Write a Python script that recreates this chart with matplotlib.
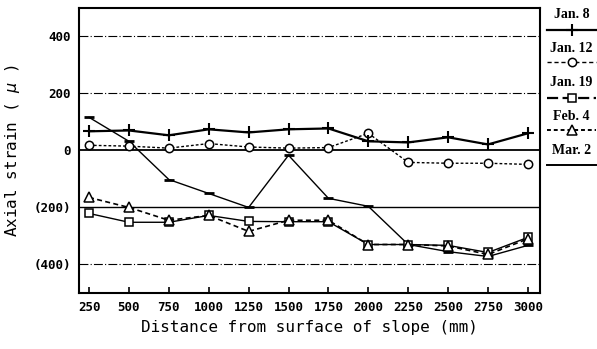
import numpy as np
import matplotlib
matplotlib.use('Agg')
import matplotlib.pyplot as plt
from matplotlib.lines import Line2D

# Datos
distancia = [250, 500, 750, 1000, 1250, 1500, 1750, 2000, 2250, 2500, 2750, 3000]
jan8 = [67, 70, 53, 74, 63, 74, 77, 32, 28, 46, 21, 60]
jan12 = [18, 15, 8, 24, 12, 8, 10, 60, -42, -45, -45, -49]
jan19 = [-221, -252, -252, -228, -249, -250, -250, -330, -330, -333, -358, -305]
feb4 = [-165, -200, -245, -228, -284, -245, -245, -330, -330, -335, -365, -310]
mar2 = [116, 32, -102, -151, -200, -17, -168, -196, -330, -355, -372, -333]
yticks = [400, 200, 0, -200, -400]
ytick_labels = ['400', '200', '0', '(200)', '(400)']
fechas = ['Jan. 8', 'Jan. 12', 'Jan. 19', 'Feb. 4', 'Mar. 2']

mono = 'DejaVu Sans Mono'

fig = plt.figure(figsize=(5.97, 3.49), dpi=100)
ax = fig.add_axes([0.1323, 0.1605, 0.772, 0.817])

# lineas de referencia
for y in [400, 200, -400]:
    ax.axhline(y, color='black', lw=0.8, ls=(0, (8, 2, 1, 2)))
ax.axhline(0, color='black', lw=1.3)
ax.axhline(-200, color='black', lw=1.0)

ax.plot(distancia, mar2, color='black', lw=1.0, marker='_', ms=7, mew=2)
ax.plot(distancia, jan19, color='black', lw=1.0, marker='s', ms=5.5, mfc='white', mew=1.1)
ax.plot(distancia, feb4, color='black', lw=1.2, ls=(0, (3, 2)), marker='^', ms=6.5, mfc='white', mew=1.1)
ax.plot(distancia, jan12, color='black', lw=1.0, ls=(0, (2, 1.5)), marker='o', ms=6, mfc='white', mew=1.1)
ax.plot(distancia, jan8, color='black', lw=1.6, marker='+', ms=9, mew=1.5)

ax.set_xlim(187, 3075)
ax.set_ylim(-500, 500)
ax.set_xticks(distancia)
ax.set_xticklabels([str(d) for d in distancia], fontsize=9, fontweight='bold', family=mono)
ax.set_yticks(yticks)
ax.set_yticklabels(ytick_labels, fontsize=9, fontweight='bold', family=mono)
ax.tick_params(axis='y', length=0, pad=6)
ax.tick_params(axis='x', direction='in', length=4, width=1.2, pad=6)
for s in ax.spines.values():
    s.set_linewidth(1.5)

ax.set_xlabel('Distance from surface of slope (mm)', fontsize=11.5, family=mono, labelpad=4)
ax.set_ylabel(r'Axial strain ( $\mu$ )', fontsize=11.5, family=mono, labelpad=8)

# leyenda manual a la derecha
estilos = [
    dict(ls='-', lw=1.6, marker='+', ms=8, mew=1.5),
    dict(ls=(0, (3, 2)), lw=1.0, marker='o', ms=6, mfc='white', mew=1.1),
    dict(ls=(0, (5, 2)), lw=1.6, marker='s', ms=6, mfc='white', mew=1.1),
    dict(ls=(0, (2, 1.5)), lw=1.4, marker='^', ms=6.5, mfc='white', mew=1.1),
    dict(ls='-', lw=1.4),
]
x0, x1 = 547 / 597, 596 / 597
ytexto = [14, 49, 83, 116, 150]
ylinea = [30, 62, 98, 130, 165]
for fecha, est, yt, yl in zip(fechas, estilos, ytexto, ylinea):
    fig.text((x0 + x1) / 2, 1 - yt / 349, fecha, ha='center', va='center',
             fontsize=10, fontweight='bold', family='Liberation Serif')
    yy = 1 - yl / 349
    fig.add_artist(Line2D([x0, x1], [yy, yy], color='black', **{k: v for k, v in est.items() if k not in ('marker', 'ms', 'mfc', 'mew')}))
    if 'marker' in est:
        fig.add_artist(Line2D([(x0 + x1) / 2], [yy], color='black', ls='none',
                              marker=est['marker'], ms=est['ms'], mfc=est.get('mfc', 'black'), mew=est['mew']))

fig.savefig('out.png', dpi=100)
